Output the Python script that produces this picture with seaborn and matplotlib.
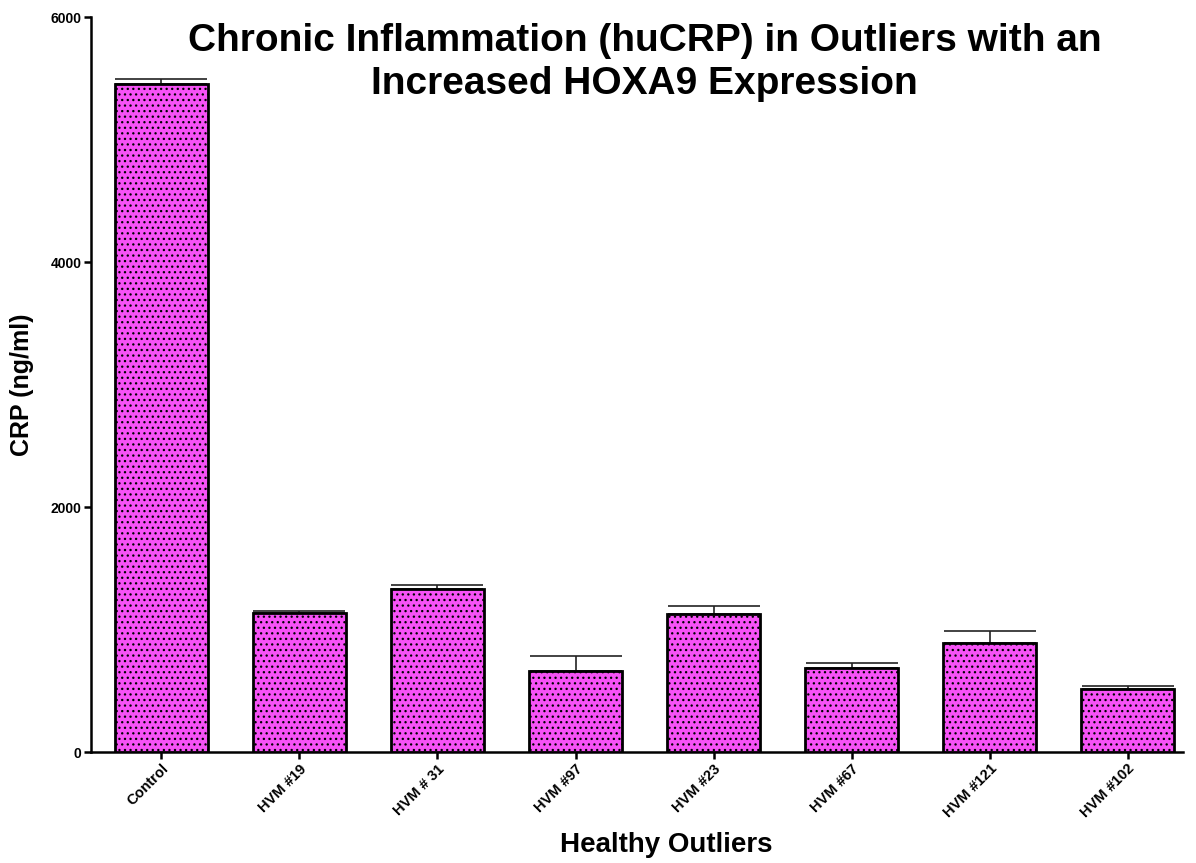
import matplotlib
matplotlib.use("Agg")
import matplotlib.pyplot as plt
import seaborn as sns
import pandas as pd
import numpy as np

# CRP levels per sample (mean and upper SEM)
samples = ["Control", "HVM #19", "HVM # 31", "HVM #97", "HVM #23", "HVM #67", "HVM #121", "HVM #102"]
crp_mean = [5455, 1135, 1330, 660, 1125, 690, 890, 515]
crp_err = [40, 18, 32, 122, 65, 40, 95, 25]
y_ticks = [0, 2000, 4000, 6000]

sns.set_style("white")
plt.rcParams["font.family"] = ["Liberation Sans", "DejaVu Sans"]
plt.rcParams["hatch.linewidth"] = 0.9
plt.rcParams["hatch.color"] = "#202020"
for key in ["text.color", "axes.labelcolor", "xtick.color", "ytick.color"]:
    plt.rcParams[key] = "black"

df = pd.DataFrame({"sample": samples, "crp": crp_mean})

fig = plt.figure(figsize=(11.96, 8.63), dpi=100)
ax = fig.add_axes([0.0761, 0.1286, 0.9129, 0.8514])

sns.barplot(data=df, x="sample", y="crp", ax=ax, color="#f652f6",
            saturation=1, width=0.675, edgecolor="black", linewidth=2.0,
            errorbar=None, zorder=3)
for p in ax.patches:
    p.set_hatch("...")

# one-sided (upper) error bars
xs = np.arange(len(samples))
ax.errorbar(xs, crp_mean, yerr=[np.zeros(len(crp_err)), crp_err], fmt="none",
            ecolor="#222222", elinewidth=1.2, capsize=33, capthick=1.2, zorder=2)

ax.set_xlim(-0.51, 7.4)
ax.set_ylim(0, 6000)
ax.set_yticks(y_ticks)
ax.set_yticklabels([str(t) for t in y_ticks], fontsize=10, fontweight="bold")
ax.set_xticks(xs)
ax.set_xticklabels(samples, rotation=45, ha="right", rotation_mode="anchor",
                   fontsize=10.5, fontweight="bold")

for side in ["top", "right"]:
    ax.spines[side].set_visible(False)
for side in ["left", "bottom"]:
    ax.spines[side].set_linewidth(1.8)
    ax.spines[side].set_color("black")
ax.tick_params(axis="both", direction="out", length=5, width=1.8, color="black", pad=2,
               left=True, bottom=True)

ax.set_xlabel("Healthy Outliers", fontsize=20, fontweight="bold", va="center")
ax.set_ylabel("CRP (ng/ml)", fontsize=18, fontweight="bold", va="center")
ax.xaxis.set_label_coords(0.527, -0.1265)
ax.yaxis.set_label_coords(-0.0632, 0.5)

fig.text(0.539, 0.928, "Chronic Inflammation (huCRP) in Outliers with an\nIncreased HOXA9 Expression",
         ha="center", va="center", fontsize=28, fontweight="bold", linespacing=1.25)

fig.savefig("out.png", dpi=100)
